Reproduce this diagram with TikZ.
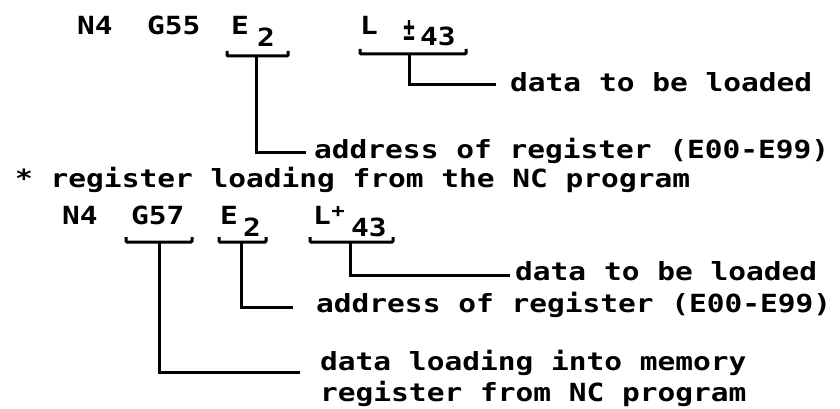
\documentclass[tikz,border=0pt]{standalone}
\usepackage{fontspec}
\usepackage{graphicx}
\newfontfamily\monof[FakeStretch=1.18]{DejaVu Sans Mono}
\begin{document}
\begin{tikzpicture}[x=1pt,y=-1pt,
  txt/.style={font=\monof\bfseries\fontsize{25}{30}\selectfont, inner sep=0pt, anchor=base west},
  small/.style={font=\monof\bfseries\fontsize{19}{22}\selectfont, inner sep=0pt},
  brk/.style={line width=3pt, rounded corners=1pt},
  lead/.style={line width=3pt}]
\useasboundingbox (0,0) rectangle (840,409);
% ---- first block: G55
\node[txt] (n4a) at (77,35) {N4};
\node[txt] (g55) at (147,35) {G55};
\node[txt] (e1) at (231,35) {E};
\node[txt] (e1s) at (257,47) {2};
\node[txt] (l1) at (360,35) {L};
\node[small, anchor=base west] (pm1) at (403,41) {\resizebox{12pt}{20pt}{±}};
\node[txt] (d43a) at (420,46) {43};
\draw[brk] (227,51) -- (227,56) -- (288,56) -- (288,51);
\draw[brk] (360,49) -- (360,54) -- (466,54) -- (466,49);
\coordinate (e1b) at (256,56);
\coordinate (l1b) at (409,54);
\coordinate (e1end) at (306,152);
\coordinate (l1end) at (496,85);
\node[txt] (data1) at (510,92) {data to be loaded};
\node[txt] (addr1) at (314,158) {address of register (E00-E99)};
\draw[lead] (l1b) |- (l1end);
\draw[lead] (e1b) |- (e1end);
% ---- heading
\node[txt] (head) at (15,187) {* register loading from the NC program};
% ---- second block: G57
\node[txt] (n4b) at (62,224) {N4};
\node[txt] (g57) at (131,224) {G57};
\node[txt] (e2) at (220,224) {E};
\node[txt] (e2s) at (243,236) {2};
\node[txt] (l2) at (313,224) {L};
\node[small, anchor=center] (plus2) at (338,212) {+};
\node[txt] (d43b) at (351,236) {43};
\draw[brk] (126,237) -- (126,242) -- (192,242) -- (192,237);
\draw[brk] (219,237) -- (219,242) -- (266,242) -- (266,237);
\draw[brk] (310,237) -- (310,242) -- (393,242) -- (393,237);
\coordinate (g57b) at (159,242);
\coordinate (e2b) at (241,242);
\coordinate (l2b) at (350,242);
\coordinate (l2end) at (510,275);
\coordinate (e2end) at (293,307);
\coordinate (g57end) at (300,372);
\node[txt] (data2) at (515,280) {data to be loaded};
\node[txt] (addr2) at (316,312) {address of register (E00-E99)};
\node[txt] (load1) at (320,370) {data loading into memory};
\node[txt] (load2) at (320,401) {register from NC program};
\draw[lead] (l2b) |- (l2end);
\draw[lead] (e2b) |- (e2end);
\draw[lead] (g57b) |- (g57end);
\end{tikzpicture}
\end{document}
